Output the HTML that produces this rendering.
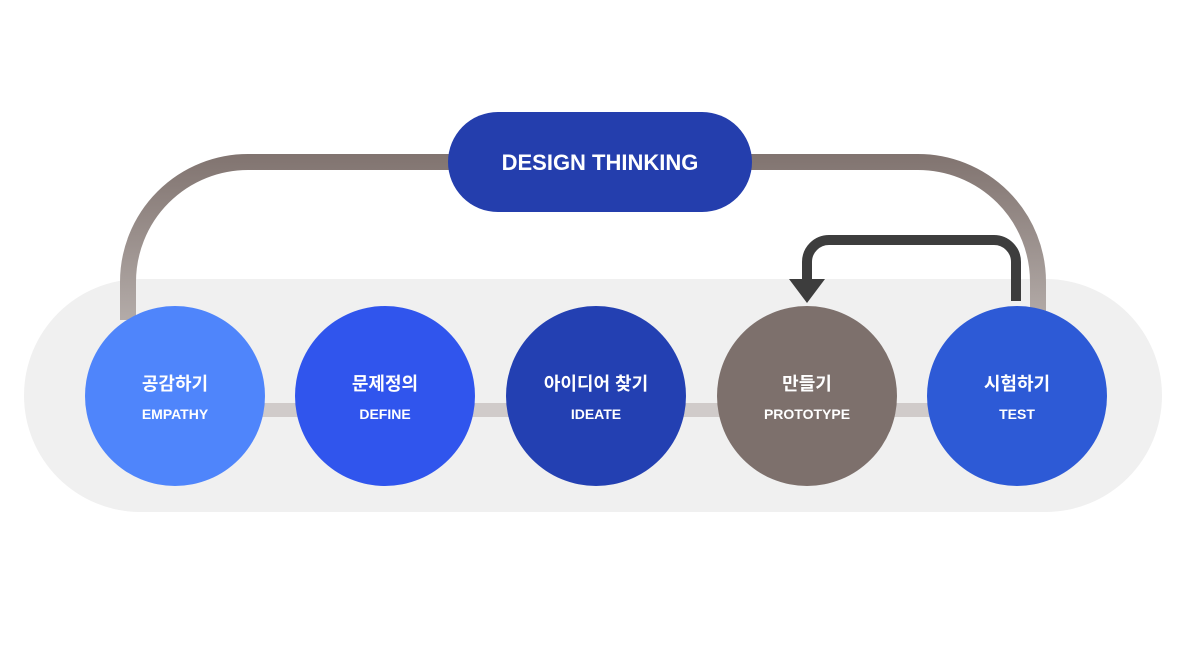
<!DOCTYPE html>
<html><head><meta charset="utf-8"><style>
body{margin:0;width:1200px;height:650px;background:#fff;overflow:hidden;font-family:"Liberation Sans","Noto Sans CJK KR",sans-serif}
</style></head><body>
<svg width="1200" height="650" viewBox="0 0 1200 650" xmlns="http://www.w3.org/2000/svg">
<defs><linearGradient id="g" x1="0" y1="155" x2="0" y2="320" gradientUnits="userSpaceOnUse"><stop offset="0" stop-color="#817470"/><stop offset="1" stop-color="#b3aba8"/></linearGradient></defs>
<rect x="24" y="279" width="1138" height="233" rx="116.5" fill="#f0f0f0"/>
<path d="M128 320 V282 A120 120 0 0 1 248 162 H918 A120 120 0 0 1 1038 282 V320" fill="none" stroke="url(#g)" stroke-width="16"/>
<rect x="175" y="403" width="842" height="14" fill="#d0cbca"/>
<rect x="448" y="112" width="304" height="100" rx="50" fill="#243ead"/>
<text x="600" y="170" text-anchor="middle" fill="#fff" font-weight="bold" font-size="22">DESIGN THINKING</text>
<path d="M1016 301 V262 A22 22 0 0 0 994 240 H829 A22 22 0 0 0 807 262 V282" fill="none" stroke="#3d3d3d" stroke-width="10"/>
<polygon points="789,279 825,279 807,303" fill="#3d3d3d"/>
<g font-weight="bold" fill="#fff" text-anchor="middle">
<circle cx="175" cy="396" r="90" fill="#4f85fb"/>
<text x="175" y="390" font-size="18">공감하기</text><text x="175" y="419" font-size="14">EMPATHY</text>
<circle cx="385" cy="396" r="90" fill="#3055ed"/>
<text x="385" y="390" font-size="18">문제정의</text><text x="385" y="419" font-size="14">DEFINE</text>
<circle cx="596" cy="396" r="90" fill="#2340b2"/>
<text x="596" y="390" font-size="18">아이디어 찾기</text><text x="596" y="419" font-size="14">IDEATE</text>
<circle cx="807" cy="396" r="90" fill="#7d706c"/>
<text x="807" y="390" font-size="18">만들기</text><text x="807" y="419" font-size="14">PROTOTYPE</text>
<circle cx="1017" cy="396" r="90" fill="#2d5ad6"/>
<text x="1017" y="390" font-size="18">시험하기</text><text x="1017" y="419" font-size="14">TEST</text>
</g>
</svg>
</body></html>
